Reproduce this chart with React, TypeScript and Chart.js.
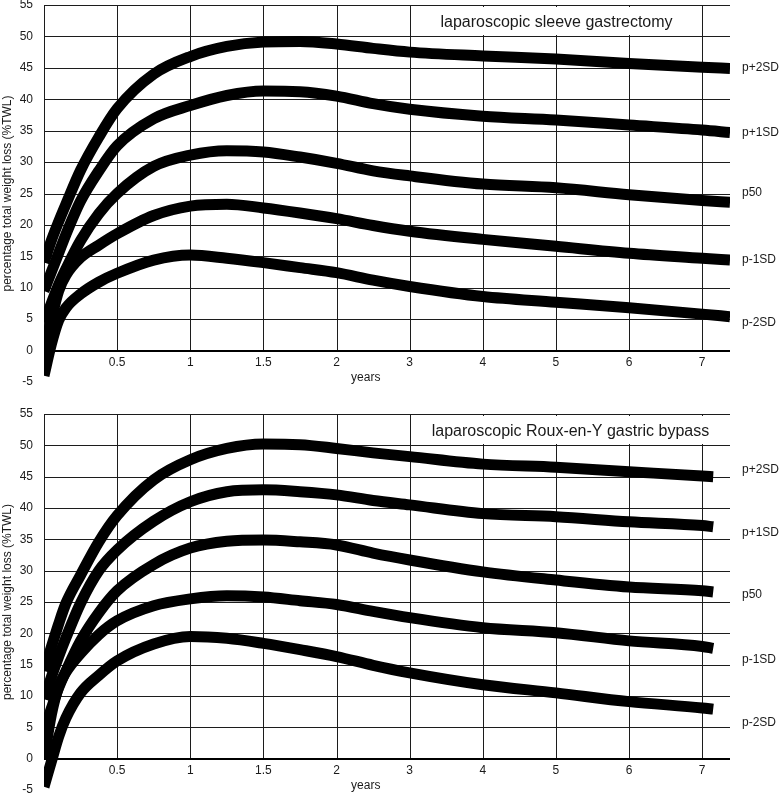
import React, { useEffect, useRef } from 'react';
import { Chart, registerables } from 'chart.js';
Chart.register(...registerables);

// ---------- data ----------
const SERIES_NAMES = ['p+2SD', 'p+1SD', 'p50', 'p-1SD', 'p-2SD'];
const X_TICK_YEARS = [0.5, 1, 1.5, 2, 3, 4, 5, 6, 7];

// laparoscopic sleeve gastrectomy
const SG_YEARS = [0, 0.05, 0.1, 0.15, 0.25, 0.375, 0.5, 0.75, 1, 1.25, 1.5, 1.75, 2, 2.5, 3, 4, 5, 6, 7, 7.38];
const SG_P2SD = [14, 17.5, 20.5, 23.3, 28.7, 34.0, 38.5, 44.0, 46.8, 48.4, 49.1, 49.2, 48.8, 48.1, 47.5, 46.9, 46.4, 45.7, 45.1, 44.9];
const SG_P1SD = [9.5, 12.5, 15.5, 18.5, 23.8, 28.6, 32.6, 36.9, 39.0, 40.6, 41.3, 41.2, 40.5, 39.3, 38.4, 37.3, 36.7, 35.9, 35.1, 34.7];
const SG_P50 = [4.5, 7.5, 10.5, 13, 17.5, 21.8, 25.0, 29.3, 31.1, 31.8, 31.6, 30.8, 29.8, 28.6, 27.8, 26.5, 25.9, 24.8, 23.9, 23.6];
const SG_M1SD = [0, 5, 9.5, 12.0, 14.8, 16.8, 18.6, 21.5, 23.0, 23.3, 22.7, 21.9, 21.0, 19.9, 19.0, 17.7, 16.6, 15.5, 14.7, 14.4];
const SG_M2SD = [-4, 1, 4.8, 6.8, 9.0, 10.9, 12.3, 14.4, 15.2, 14.7, 14.0, 13.2, 12.4, 11.2, 10.2, 8.6, 7.7, 6.8, 5.8, 5.4];
const SG_LABEL_AT = [45, 34.7, 25.2, 14.4, 4.4];

// laparoscopic Roux-en-Y gastric bypass
const RYGB_YEARS = [0, 0.05, 0.1, 0.15, 0.25, 0.375, 0.5, 0.75, 1, 1.25, 1.5, 1.75, 2, 2.5, 3, 4, 5, 6, 7, 7.15];
const RYGB_P2SD = [14, 17.8, 21.5, 24.8, 29.3, 34.6, 38.8, 44.5, 47.7, 49.5, 50.2, 50.1, 49.5, 48.8, 48.2, 47.0, 46.5, 45.8, 45.1, 45.0];
const RYGB_P1SD = [9.5, 13, 16.3, 19.3, 24.8, 30.0, 33.3, 37.9, 41.0, 42.6, 42.9, 42.6, 42.1, 41.2, 40.5, 39.1, 38.6, 37.8, 37.2, 37.0];
const RYGB_P50 = [4.5, 8, 11.3, 14, 18.8, 23.3, 26.8, 31.0, 33.6, 34.7, 34.9, 34.6, 34.1, 32.8, 31.7, 29.8, 28.5, 27.4, 26.8, 26.6];
const RYGB_M1SD = [0, 7, 11.5, 13.8, 16.8, 19.8, 22.0, 24.4, 25.5, 26.0, 25.8, 25.2, 24.6, 23.5, 22.5, 20.9, 20.1, 18.8, 17.9, 17.6];
const RYGB_M2SD = [-4.5, -0.5, 3.5, 6.5, 10.5, 13.3, 15.6, 18.3, 19.5, 19.2, 18.4, 17.4, 16.3, 14.9, 13.7, 11.8, 10.5, 9.1, 8.1, 7.9];
const RYGB_LABEL_AT = [46.1, 36, 26.2, 15.8, 5.7];

const Y_MIN = -5;
const Y_MAX = 55;
const Y_STEP = 5;
const X_MAX_YEARS = 7.38;

// axis spacing in the figure: half-year cells up to 2 years, then one-year cells
function yearToPos(y: number) {
  return y <= 2 ? y * 2 : 4 + (y - 2);
}

const FONT = "'Liberation Sans', Arial, sans-serif";

interface PanelProps {
  title: string;
  years: number[];
  series: number[][];
  labelAt: number[];
  boxEndYears: number;
  padding: { top: number; bottom: number; left: number; right: number };
  width: number;
  height: number;
}

function Panel(props: PanelProps) {
  const ref = useRef<HTMLCanvasElement | null>(null);
  useEffect(() => {
    if (!ref.current) return;
    const { title, years, series, labelAt, boxEndYears } = props;

    const paperPlugin = {
      id: 'paper',
      beforeDatasetsDraw(chart: any) {
        const { ctx, chartArea, scales } = chart;
        const x = scales.x;
        const y = scales.y;
        ctx.save();
        ctx.strokeStyle = '#1c1c1c';
        ctx.lineWidth = 1;
        const yTop = y.getPixelForValue(Y_MAX);
        const yZero = y.getPixelForValue(0);
        for (let v = 0; v <= Y_MAX; v += Y_STEP) {
          const py = Math.round(y.getPixelForValue(v)) + 0.5;
          ctx.beginPath();
          ctx.moveTo(chartArea.left, py);
          ctx.lineTo(chartArea.right, py);
          ctx.stroke();
        }
        const verts = [0, ...X_TICK_YEARS];
        for (const yr of verts) {
          const px = Math.round(x.getPixelForValue(yearToPos(yr))) + 0.5;
          ctx.beginPath();
          ctx.moveTo(px, yTop);
          ctx.lineTo(px, yZero);
          ctx.stroke();
        }
        ctx.lineWidth = 2;
        ctx.strokeStyle = '#000';
        ctx.beginPath();
        ctx.moveTo(chartArea.left, Math.round(yZero));
        ctx.lineTo(chartArea.right, Math.round(yZero));
        ctx.stroke();
        const bx0 = Math.round(x.getPixelForValue(yearToPos(3))) + 2;
        const bx1 = Math.round(x.getPixelForValue(yearToPos(boxEndYears))) - 1;
        const by0 = Math.round(yTop) + 2;
        const by1 = Math.round(y.getPixelForValue(50)) - 1;
        ctx.fillStyle = '#fff';
        ctx.fillRect(bx0, by0, bx1 - bx0, by1 - by0);
        ctx.fillStyle = '#1a1a1a';
        ctx.font = `16px ${FONT}`;
        ctx.textAlign = 'center';
        ctx.textBaseline = 'middle';
        ctx.fillText(title, (bx0 + bx1) / 2, (yTop + y.getPixelForValue(50)) / 2 + 2);
        ctx.restore();
      },
      afterDatasetsDraw(chart: any) {
        const { ctx, chartArea, scales } = chart;
        const x = scales.x;
        const y = scales.y;
        ctx.save();
        ctx.fillStyle = '#1a1a1a';
        ctx.font = `12px ${FONT}`;
        ctx.textAlign = 'left';
        ctx.textBaseline = 'middle';
        SERIES_NAMES.forEach((name, i) => {
          ctx.fillText(name, chartArea.right + 12, y.getPixelForValue(labelAt[i]));
        });
        ctx.textAlign = 'center';
        ctx.fillText('years', x.getPixelForValue(4.4), y.getPixelForValue(0) + 27);
        ctx.restore();
      },
    };

    const datasets = series.map((vals, i) => ({
      label: SERIES_NAMES[i],
      data: years.map((yr, j) => ({ x: yearToPos(yr), y: vals[j] })),
      borderColor: '#000',
      backgroundColor: '#000',
      borderWidth: 11,
      borderCapStyle: 'butt' as const,
      borderJoinStyle: 'round' as const,
      pointRadius: 0,
      cubicInterpolationMode: 'monotone' as const,
      fill: false,
    }));

    const chart = new Chart(ref.current, {
      type: 'line',
      data: { datasets },
      plugins: [paperPlugin],
      options: {
        animation: false,
        responsive: false,
        maintainAspectRatio: false,
        layout: { padding: props.padding, autoPadding: false } as any,
        plugins: { legend: { display: false }, tooltip: { enabled: false } },
        scales: {
          x: {
            type: 'linear',
            position: { y: 0 } as any,
            min: 0,
            max: yearToPos(X_MAX_YEARS),
            grid: { display: false, drawTicks: false },
            border: { display: false },
            afterBuildTicks: (scale: any) => {
              scale.ticks = X_TICK_YEARS.map((yr) => ({ value: yearToPos(yr) }));
            },
            afterFit: (scale: any) => {
              scale.height = 0;
              scale.paddingLeft = 0;
              scale.paddingRight = 0;
              scale.paddingTop = 0;
              scale.paddingBottom = 0;
            },
            ticks: {
              autoSkip: false,
              maxRotation: 0,
              padding: 5,
              color: '#1a1a1a',
              font: { family: FONT, size: 12 },
              callback: (value: any) => {
                const idx = X_TICK_YEARS.findIndex((yr) => Math.abs(yearToPos(yr) - Number(value)) < 1e-6);
                return idx >= 0 ? String(X_TICK_YEARS[idx]) : '';
              },
            },
          },
          y: {
            type: 'linear',
            position: 'left',
            min: Y_MIN,
            max: Y_MAX,
            grid: { display: false, drawTicks: false },
            border: { display: false },
            afterFit: (scale: any) => {
              scale.width = 44;
              scale.paddingTop = 0;
              scale.paddingBottom = 0;
              scale.paddingLeft = 0;
              scale.paddingRight = 0;
            },
            ticks: {
              stepSize: Y_STEP,
              padding: 11,
              color: '#1a1a1a',
              font: { family: FONT, size: 12 },
            },
            title: {
              display: true,
              text: 'percentage total weight loss (%TWL)',
              color: '#1a1a1a',
              font: { family: FONT, size: 12 },
              padding: { top: 0, bottom: 0 },
            },
          },
        },
      },
    });
    return () => chart.destroy();
  }, []);
  return <canvas ref={ref} width={props.width} height={props.height} style={{ display: 'block' }} />;
}

export default function App() {
  return (
    <div style={{ position: 'absolute', left: 0, top: 0, width: 781, height: 795, background: '#fff' }}>
      <Panel
        title="laparoscopic sleeve gastrectomy"
        years={SG_YEARS}
        series={[SG_P2SD, SG_P1SD, SG_P50, SG_M1SD, SG_M2SD]}
        labelAt={SG_LABEL_AT}
        boxEndYears={7}
        padding={{ top: 5, bottom: 13, left: 0, right: 51 }}
        width={781}
        height={395}
      />
      <Panel
        title="laparoscopic Roux-en-Y gastric bypass"
        years={RYGB_YEARS}
        series={[RYGB_P2SD, RYGB_P1SD, RYGB_P50, RYGB_M1SD, RYGB_M2SD]}
        labelAt={RYGB_LABEL_AT}
        boxEndYears={X_MAX_YEARS}
        padding={{ top: 19, bottom: 5, left: 0, right: 51 }}
        width={781}
        height={400}
      />
    </div>
  );
}
